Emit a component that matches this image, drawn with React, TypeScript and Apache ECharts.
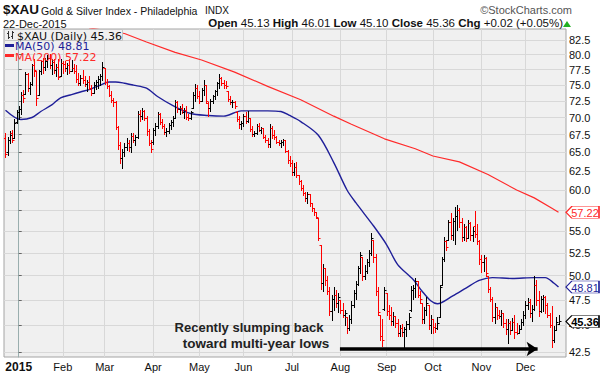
import React, { useEffect, useRef } from 'react';
import * as echarts from 'echarts';

const FONT = '"Liberation Sans", Arial, Helvetica, sans-serif';
const LEG_FONT = '"DejaVu Sans", Verdana, sans-serif';

const RED = '#ff0000';
const NAVY = '#1f1f99';
const MA_RED = '#ff2a2a';

// x axis: trading-day index (0 = 2 Jan 2015)
const firstIndex = -6;
const monthStarts = [0, 20, 39, 61, 82, 102, 124, 146, 167, 188, 210, 230];
const monthLabels = ['2015', 'Feb', 'Mar', 'Apr', 'May', 'Jun', 'Jul', 'Aug', 'Sep', 'Oct', 'Nov', 'Dec'];
const yTicks = [42.5, 45, 47.5, 50, 52.5, 55, 57.5, 60, 62.5, 65, 67.5, 70, 72.5, 75, 77.5, 80, 82.5];
// 57.5 sits fully behind the MA(200) price tag, so its label is not drawn
const yLabelTicks = [42.5, 45, 47.5, 50, 52.5, 55, 60, 62.5, 65, 67.5, 70, 72.5, 75, 77.5, 80, 82.5];

// daily bars [open, high, low, close]
const dec2014 = [
  [67.0, 67.7, 64.3, 64.8], [65.0, 67.2, 64.6, 66.8], [66.8, 68.0, 66.3, 67.5], [67.8, 68.1, 66.4, 66.8],
  [67.0, 69.8, 67.0, 69.2], [69.3, 71.2, 69.2, 70.9],
];
const jan2015 = [
  [70.9, 71.8, 69.8, 71.3], [71.3, 73.9, 70.5, 73.5], [73.5, 74.2, 72.3, 73.0], [73.6, 77.1, 73.6, 76.8],
  [76.8, 77.0, 74.0, 74.5], [74.5, 75.5, 73.6, 75.2], [75.2, 78.5, 75.0, 78.2], [78.2, 79.3, 76.5, 77.5],
  [77.3, 77.3, 71.9, 73.0], [73.5, 77.5, 73.5, 77.2], [77.2, 79.1, 76.8, 78.9], [78.9, 79.5, 77.0, 78.0],
  [78.0, 79.5, 77.5, 79.0], [79.0, 80.0, 78.0, 79.5], [79.5, 80.2, 77.8, 78.2], [78.2, 79.3, 76.8, 78.8],
  [78.8, 79.2, 77.0, 77.5], [77.5, 78.5, 76.5, 78.0], [78.0, 79.2, 75.9, 76.3], [76.5, 79.2, 76.5, 78.6],
];
const feb2015 = [
  [78.6, 79.0, 77.0, 78.5], [78.5, 79.0, 77.2, 77.8], [77.8, 78.6, 76.8, 78.2], [78.2, 79.2, 77.0, 77.3],
  [77.3, 79.1, 77.3, 77.8], [77.8, 78.5, 77.0, 77.2], [77.2, 78.2, 75.5, 76.0], [76.0, 77.0, 75.0, 75.4],
  [75.4, 76.6, 75.0, 76.2], [76.2, 77.5, 75.3, 75.8], [75.8, 76.5, 74.8, 75.2], [75.2, 75.8, 74.0, 75.5],
  [75.5, 76.4, 74.3, 74.6], [74.6, 75.0, 73.5, 73.8], [73.8, 75.5, 73.8, 75.0], [75.0, 75.8, 74.3, 75.5],
  [75.5, 76.4, 74.5, 76.0], [76.0, 76.8, 75.0, 76.5], [76.5, 78.7, 75.8, 78.0],
];
const mar2015 = [
  [77.8, 77.8, 75.2, 75.5], [75.5, 76.0, 74.5, 74.8], [74.8, 75.0, 73.2, 73.5], [73.5, 74.0, 72.3, 72.6],
  [72.6, 73.0, 71.8, 72.3], [72.3, 72.5, 68.3, 68.6], [68.6, 68.8, 65.5, 66.0], [66.0, 66.5, 63.5, 64.2],
  [64.2, 65.5, 62.9, 65.0], [65.0, 66.3, 64.5, 65.8], [65.8, 67.0, 65.3, 66.3], [66.3, 66.8, 65.2, 65.7],
  [65.7, 67.7, 65.0, 67.3], [67.3, 67.8, 66.5, 66.8], [66.8, 67.5, 66.0, 67.2], [67.2, 71.0, 67.0, 70.5],
  [70.5, 71.2, 69.5, 70.2], [70.2, 71.4, 69.8, 71.0], [71.0, 71.2, 69.7, 70.0], [70.0, 70.2, 67.5, 68.0],
  [68.0, 68.3, 66.0, 66.3], [66.3, 66.8, 65.0, 65.5],
];
const apr2015 = [
  [66.4, 68.5, 66.2, 68.2], [68.2, 69.2, 67.5, 68.8], [68.8, 70.8, 68.5, 70.5], [70.5, 70.6, 69.0, 69.3],
  [69.3, 69.8, 68.5, 68.8], [68.8, 69.0, 67.6, 67.9], [67.9, 68.4, 67.3, 68.0], [68.0, 69.2, 67.8, 68.9],
  [68.9, 69.7, 68.3, 69.4], [69.4, 70.2, 68.8, 70.0], [70.0, 72.7, 70.0, 72.3], [72.3, 72.5, 70.8, 71.3],
  [71.3, 71.8, 70.5, 71.5], [71.5, 72.0, 70.6, 70.8], [70.8, 71.5, 70.0, 71.2], [71.2, 71.8, 69.8, 70.1],
  [70.1, 70.5, 69.6, 69.9], [69.9, 71.0, 69.8, 70.8], [71.5, 73.9, 71.5, 73.5], [73.5, 75.2, 72.5, 74.5],
  [74.5, 75.0, 73.0, 73.3],
];
const may2015 = [
  [73.3, 74.0, 72.2, 72.5], [72.5, 74.5, 72.5, 74.2], [74.2, 75.8, 73.5, 75.0], [75.0, 75.0, 72.2, 72.5],
  [72.2, 72.4, 70.2, 71.5], [71.5, 72.8, 71.0, 72.5], [72.5, 73.5, 72.2, 73.2], [73.2, 74.2, 72.8, 74.0],
  [74.0, 75.5, 73.5, 75.3], [75.3, 76.8, 74.5, 76.2], [76.2, 76.3, 75.0, 75.4], [75.4, 75.8, 74.6, 75.0],
  [75.0, 75.6, 74.6, 74.8], [74.0, 74.0, 72.5, 72.8], [72.8, 73.2, 72.0, 72.3], [72.3, 72.6, 71.6, 72.4],
  [72.4, 72.5, 71.5, 71.8], [70.8, 71.0, 69.5, 69.8], [69.8, 70.2, 68.5, 69.0], [69.0, 69.5, 68.3, 69.2],
];
const jun2015 = [
  [69.2, 70.5, 68.8, 70.2], [70.2, 70.9, 69.2, 69.5], [69.5, 71.0, 69.3, 69.9], [69.9, 69.9, 68.0, 68.3],
  [68.3, 68.8, 67.3, 67.6], [67.6, 68.0, 67.3, 67.8], [67.8, 69.0, 67.6, 68.7], [68.7, 69.2, 68.0, 68.2],
  [68.2, 68.6, 67.8, 68.4], [68.4, 68.4, 67.0, 67.2], [67.2, 67.5, 66.5, 66.8], [66.8, 67.0, 65.8, 66.2],
  [66.2, 69.0, 65.8, 68.5], [68.5, 68.8, 67.0, 67.5], [67.5, 68.2, 66.9, 67.1], [67.1, 67.3, 66.3, 66.5],
  [66.5, 66.8, 66.0, 66.3], [66.3, 66.8, 65.8, 66.5], [66.5, 66.9, 66.0, 66.7], [66.7, 66.7, 65.0, 65.2],
  [65.2, 65.3, 63.6, 64.0], [64.0, 64.5, 63.2, 63.5],
];
const jul2015 = [
  [63.5, 64.0, 62.0, 62.4], [62.4, 63.5, 62.0, 63.0], [63.0, 63.7, 61.7, 62.0], [62.0, 62.0, 60.8, 61.1],
  [61.1, 61.3, 60.0, 60.3], [60.3, 60.6, 59.3, 59.6], [59.6, 59.8, 58.6, 59.0], [59.0, 59.8, 58.4, 59.5],
  [59.5, 59.5, 58.0, 58.3], [58.3, 58.4, 57.4, 57.7], [57.7, 57.8, 56.9, 57.2], [57.2, 57.2, 56.5, 56.7],
  [56.5, 56.5, 53.9, 54.2], [53.4, 53.4, 48.6, 49.2], [49.2, 51.3, 48.4, 50.8], [50.8, 50.8, 49.0, 49.5],
  [49.5, 50.0, 48.1, 48.4], [48.4, 48.8, 46.0, 46.4], [46.4, 48.0, 45.5, 47.6], [47.6, 48.8, 46.5, 48.0],
  [48.0, 48.5, 46.8, 47.2], [47.2, 48.2, 46.3, 47.8],
];
const aug2015 = [
  [47.5, 47.5, 46.2, 46.5], [46.5, 47.2, 45.8, 46.0], [46.0, 46.5, 45.0, 46.2], [45.8, 45.8, 44.3, 44.7],
  [44.7, 46.0, 44.5, 45.6], [45.6, 47.4, 45.2, 47.0], [47.0, 48.5, 46.8, 48.2], [48.2, 49.4, 47.6, 49.1],
  [49.1, 51.0, 49.0, 50.8], [50.8, 52.6, 50.3, 52.3], [52.0, 52.0, 49.5, 50.0], [50.0, 51.2, 49.6, 50.5],
  [50.5, 51.8, 50.3, 51.5], [51.5, 52.8, 51.0, 52.5], [52.5, 54.8, 52.3, 54.2], [54.0, 54.0, 51.5, 52.0],
  [52.0, 52.4, 48.0, 48.4], [48.4, 48.8, 46.0, 46.3], [46.0, 46.0, 43.6, 44.0], [44.0, 45.6, 43.1, 43.6],
  [46.6, 48.8, 46.5, 48.5],
];
const sep2015 = [
  [48.2, 48.2, 46.0, 46.4], [46.4, 47.0, 45.6, 46.0], [46.0, 46.8, 45.0, 45.4], [45.4, 46.3, 45.0, 45.9],
  [45.9, 45.9, 44.8, 45.2], [45.2, 45.6, 44.0, 44.3], [44.3, 45.0, 44.0, 44.7], [44.7, 45.1, 44.0, 44.4],
  [44.4, 44.8, 42.9, 44.6], [44.6, 45.4, 44.0, 45.1], [45.1, 46.2, 44.6, 45.8], [46.5, 48.9, 46.4, 48.5],
  [48.5, 49.0, 47.6, 48.7], [48.7, 49.8, 47.8, 49.4], [49.4, 49.4, 47.8, 48.0], [48.0, 48.4, 47.2, 47.6],
  [47.2, 47.2, 45.2, 45.6], [45.6, 46.8, 45.2, 46.5], [46.5, 47.8, 46.0, 47.2], [47.0, 47.0, 44.6, 45.0],
  [45.0, 46.0, 44.3, 45.6],
];
const oct2015 = [
  [45.6, 45.6, 44.3, 44.8], [44.8, 45.2, 44.4, 44.7], [44.7, 45.8, 44.6, 45.2], [45.8, 49.0, 45.8, 48.8],
  [49.0, 52.0, 49.0, 51.8], [51.8, 54.3, 51.6, 53.8], [53.8, 53.9, 52.8, 53.2], [53.9, 56.3, 53.9, 56.0],
  [56.0, 57.1, 54.1, 54.5], [54.5, 56.5, 54.0, 56.2], [56.2, 57.9, 53.5, 56.8], [56.8, 58.1, 55.1, 57.5],
  [57.5, 57.8, 55.5, 56.0], [56.0, 56.5, 53.8, 54.3], [54.3, 55.8, 54.0, 55.5], [55.5, 55.6, 53.8, 54.2],
  [54.2, 56.3, 54.2, 55.9], [55.9, 56.0, 54.0, 54.5], [54.5, 55.5, 53.8, 55.0], [55.6, 57.4, 54.3, 54.6],
  [54.6, 55.8, 53.5, 53.8], [53.8, 54.0, 51.3, 51.8],
];
const nov2015 = [
  [51.8, 52.2, 50.4, 51.5], [51.5, 52.3, 50.5, 51.9], [51.9, 52.0, 50.0, 50.3], [50.0, 50.0, 48.3, 48.6],
  [48.6, 48.8, 47.4, 47.6], [47.6, 47.8, 45.4, 45.8], [45.8, 47.2, 45.2, 46.8], [46.8, 46.8, 45.6, 46.0],
  [46.0, 46.5, 45.7, 45.9], [45.9, 46.5, 45.0, 46.2], [46.2, 46.2, 44.8, 45.2], [45.2, 45.6, 44.2, 44.6],
  [44.6, 45.6, 43.3, 45.2], [45.2, 45.4, 44.2, 44.5], [44.5, 45.7, 44.5, 45.3], [45.3, 46.0, 43.8, 44.4],
  [44.4, 45.2, 44.2, 44.3], [44.3, 45.0, 44.3, 44.6], [44.6, 45.6, 44.6, 45.3], [45.3, 46.4, 45.0, 46.0],
];
const dec2015 = [
  [46.0, 47.4, 45.7, 47.0], [47.0, 47.7, 46.6, 47.3], [47.3, 47.6, 45.8, 46.2], [46.2, 47.0, 45.4, 46.6],
  [46.6, 50.0, 46.5, 49.0], [49.0, 49.5, 47.0, 47.5], [47.5, 48.4, 45.9, 46.4], [46.4, 47.9, 46.3, 47.6],
  [47.6, 48.0, 46.4, 47.8], [47.8, 47.9, 46.2, 47.0], [47.0, 47.2, 45.8, 46.0], [46.0, 46.2, 44.8, 45.0],
  [45.0, 46.9, 43.0, 43.6], [43.6, 44.9, 43.4, 44.5], [44.5, 45.8, 44.5, 45.34], [45.13, 46.01, 45.10, 45.36],
];

// moving averages [dayIndex, value]
const ma50 = [
  [-6, 71.1], [1, 69.7], [6, 70.0], [10, 70.9], [15, 71.9], [19, 73.0], [24, 73.5], [28, 73.9], [33, 74.4],
  [37, 75.0], [41, 75.5], [44, 75.5], [48, 75.3], [52, 75.0], [58, 74.5], [63, 73.2], [70, 71.8], [78, 70.6],
  [86, 70.3], [93, 70.2], [101, 71.0], [105, 71.0], [113, 71.0], [119, 70.9], [123, 70.3], [128, 69.4],
  [136, 67.4], [143, 63.6], [149, 60.0], [153, 58.4], [161, 55.6], [167, 53.4], [172, 51.2], [179, 49.6],
  [183, 48.4], [187, 47.4], [190, 47.1], [197, 47.9], [203, 48.7], [209, 49.5], [215, 49.8], [224, 49.7],
  [234, 49.8], [239, 49.8], [243, 49.2], [245, 48.81],
];
const ma200 = [
  [32, 84.7], [48, 83.7], [58, 82.2], [71, 80.4], [83, 79.1], [98, 77.1], [113, 74.8], [128, 72.7],
  [143, 70.2], [151, 69.0], [166, 66.9], [180, 65.5], [188, 64.5], [200, 63.7], [213, 62.0], [226, 60.0],
  [234, 59.0], [242, 57.7], [245, 57.22],
];

const lastClose = 45.36;
const lastMa50 = 48.81;
const lastMa200 = 57.22;

const XMIN = -6.68;
const XMAX = 248.4;
const YMIN = 42.06;
const YMAX = 84.5;

const ln = (v: number) => Math.log(v);

function buildOption() {
  const bars = [
    ...dec2014, ...jan2015, ...feb2015, ...mar2015, ...apr2015, ...may2015,
    ...jun2015, ...jul2015, ...aug2015, ...sep2015, ...oct2015, ...nov2015, ...dec2015,
  ];
  const ohlc = bars.map((b, k) => {
    const up = k > 0 && b[3] >= bars[k - 1][3] ? 1 : 0;
    return [firstIndex + k, ln(b[0]), ln(b[1]), ln(b[2]), ln(b[3]), up];
  });
  const lastIdx = firstIndex + bars.length - 1;

  const tag = (v: number, color: string, bold: boolean) => ({
    silent: true,
    symbol: 'path://M0,6L6,0L34,0L34,12L6,12Z',
    symbolSize: [33, 12],
    symbolOffset: [16.5, 0],
    itemStyle: { color: '#ffffff', borderColor: color, borderWidth: 1 },
    label: {
      show: true, position: 'inside', offset: [2.5, 0.5], formatter: v.toFixed(2), color: bold ? '#000' : color,
      fontFamily: FONT, fontSize: 11, fontWeight: bold ? 'bold' : 'normal',
    },
    data: [{ coord: [XMAX, ln(v)] }],
  });

  const legendText = (text: string, left: number, top: number, fill: string) => ({
    type: 'text', left, top, z: 11,
    style: { text, font: '11px ' + LEG_FONT, fill, lineHeight: 9 },
  });

  return {
    animation: false,
    backgroundColor: '#ffffff',
    grid: {
      left: 4, right: 38, top: 29, bottom: 17, show: true,
      backgroundColor: '#f0f0f0', borderColor: '#a4a4a4', borderWidth: 1,
      containLabel: false, outerBoundsMode: 'none',
    },
    xAxis: {
      type: 'value', min: XMIN, max: XMAX,
      axisLine: { show: false },
      axisTick: { show: false, customValues: monthStarts },
      axisLabel: {
        customValues: monthStarts, margin: 4, fontFamily: FONT, fontSize: 11, color: '#111',
        formatter: (v: number) => {
          const k = monthStarts.indexOf(Math.round(v));
          if (k < 0) return '';
          return k === 0 ? '{b|' + monthLabels[k] + '}' : monthLabels[k];
        },
        rich: { b: { fontFamily: FONT, fontSize: 12, fontWeight: 'bold', color: '#111' } },
      },
      splitLine: { show: true, lineStyle: { color: '#d8d8d8', width: 1 } },
    },
    yAxis: {
      type: 'value', position: 'right', min: ln(YMIN), max: ln(YMAX),
      axisLine: { show: true, lineStyle: { color: '#9aaeae', width: 1 } },
      axisTick: { show: true, length: 3, customValues: yTicks.map(ln), lineStyle: { color: '#666' } },
      axisLabel: {
        customValues: yLabelTicks.map(ln), margin: 3, fontFamily: FONT, fontSize: 11, color: '#111',
        formatter: (v: number) => Math.exp(v).toFixed(1),
      },
      splitLine: { show: true, lineStyle: { color: '#d8d8d8', width: 1 } },
    },
    series: [
      {
        type: 'line', name: 'MA200', data: ma200.map(p => [p[0], ln(p[1])]), showSymbol: false,
        lineStyle: { color: MA_RED, width: 1.2 }, z: 2, markPoint: tag(lastMa200, MA_RED, false),
      },
      {
        type: 'line', name: 'MA50', data: ma50.map(p => [p[0], ln(p[1])]), showSymbol: false, smooth: 0.3,
        lineStyle: { color: NAVY, width: 1.4 }, z: 2, markPoint: tag(lastMa50, NAVY, false),
      },
      {
        type: 'custom', name: 'XAU', data: ohlc, z: 3, clip: true,
        dimensions: ['i', 'o', 'h', 'l', 'c', 'up'],
        encode: { x: 0, y: [1, 2, 3, 4] },
        renderItem: (params: any, api: any) => {
          const i = api.value(0);
          const pO = api.coord([i, api.value(1)]);
          const pH = api.coord([i, api.value(2)]);
          const pL = api.coord([i, api.value(3)]);
          const pC = api.coord([i, api.value(4)]);
          const color = api.value(5) ? '#000000' : RED;
          const x = Math.round(pH[0]) + 0.5;
          const yo = Math.round(pO[1]) + 0.5;
          const yc = Math.round(pC[1]) + 0.5;
          const style = { stroke: color, lineWidth: 1 };
          return {
            type: 'group',
            children: [
              { type: 'line', shape: { x1: x, y1: Math.round(pH[1]), x2: x, y2: Math.round(pL[1]) + 1 }, style },
              { type: 'line', shape: { x1: x - 2, y1: yo, x2: x, y2: yo }, style },
              { type: 'line', shape: { x1: x, y1: yc, x2: x + 2, y2: yc }, style },
            ],
          };
        },
      },
      {
        type: 'line', name: 'price', data: [[lastIdx, ln(lastClose)]], showSymbol: false,
        lineStyle: { opacity: 0 }, z: 4,
        markPoint: tag(lastClose, '#000000', true),
        markLine: {
          silent: true, symbol: ['none', 'arrow'], symbolSize: [11, 11],
          lineStyle: { color: '#000', width: 3.5, type: 'solid' },
          label: { show: false },
          data: [[{ coord: [145.8, ln(42.78)] }, { coord: [235.5, ln(42.78)] }]],
        },
      },
    ],
    graphic: [
      { type: 'text', left: 3, top: 2, style: { text: '$XAU', font: 'bold 13.5px ' + FONT, fill: '#111' } },
      { type: 'text', left: 41, top: 5, style: { text: 'Gold & Silver Index - Philadelphia', font: '10.5px ' + FONT, fill: '#111' } },
      { type: 'text', left: 205, top: 5, style: { text: 'INDX', font: '10px ' + FONT, fill: '#111' } },
      { type: 'text', right: 32, top: 4, style: { text: '\u00a9StockCharts.com', font: '11px ' + FONT, fill: '#555' } },
      { type: 'text', left: 3, top: 18, style: { text: '22-Dec-2015', font: '11px ' + FONT, fill: '#111' } },
      {
        type: 'text', right: 41, top: 17,
        style: {
          text: '{b|Open} 45.13 {b|High} 46.01 {b|Low} 45.10 {b|Close} 45.36 {b|Chg} +0.02 (+0.05%)',
          font: '11.5px ' + FONT, fill: '#111',
          rich: { b: { font: 'bold 11.5px ' + FONT, fill: '#111' } },
        },
      },
      { type: 'polygon', shape: { points: [[563, 27], [567, 21], [571, 27]] }, style: { fill: '#22b022' } },
      // legend
      { type: 'rect', shape: { x: 4.5, y: 29.5, width: 118, height: 11 }, style: { fill: '#f0f0f0', stroke: '#c4c4c4', lineWidth: 1 }, z: 10 },
      { type: 'line', shape: { x1: 8.5, y1: 31, x2: 8.5, y2: 39 }, style: { stroke: '#333', lineWidth: 1 }, z: 11 },
      { type: 'line', shape: { x1: 7, y1: 33.5, x2: 8.5, y2: 33.5 }, style: { stroke: '#333', lineWidth: 1 }, z: 11 },
      { type: 'line', shape: { x1: 8.5, y1: 37.5, x2: 10, y2: 37.5 }, style: { stroke: '#333', lineWidth: 1 }, z: 11 },
      { type: 'line', shape: { x1: 12.5, y1: 31, x2: 12.5, y2: 39 }, style: { stroke: '#333', lineWidth: 1 }, z: 11 },
      { type: 'line', shape: { x1: 11, y1: 36.5, x2: 12.5, y2: 36.5 }, style: { stroke: '#333', lineWidth: 1 }, z: 11 },
      { type: 'line', shape: { x1: 12.5, y1: 32.5, x2: 14, y2: 32.5 }, style: { stroke: '#333', lineWidth: 1 }, z: 11 },
      legendText('$XAU (Daily) 45.36', 17, 30.5, '#111'),
      { type: 'line', shape: { x1: 5, y1: 45.5, x2: 14, y2: 45.5 }, style: { stroke: NAVY, lineWidth: 3 }, z: 11 },
      legendText('MA(50) 48.81', 15, 41, NAVY),
      { type: 'line', shape: { x1: 5, y1: 55.5, x2: 14, y2: 55.5 }, style: { stroke: MA_RED, lineWidth: 3 }, z: 11 },
      legendText('MA(200) 57.22', 15, 51.5, MA_RED),
      // annotation
      {
        type: 'text', x: 249, y: 327, z: 11,
        style: { text: 'Recently slumping back', font: 'bold 13px ' + FONT, fill: '#222', align: 'center', verticalAlign: 'middle' },
      },
      {
        type: 'text', x: 256, y: 343, z: 11,
        style: { text: 'toward multi-year lows', font: 'bold 13.5px ' + FONT, fill: '#222', align: 'center', verticalAlign: 'middle' },
      },
    ],
  };
}

export default function App() {
  const ref = useRef<HTMLDivElement>(null);
  useEffect(() => {
    if (!ref.current) return;
    const chart = echarts.init(ref.current, undefined, { renderer: 'svg' });
    chart.setOption(buildOption() as any);
    return () => chart.dispose();
  }, []);
  return (
    <div
      ref={ref}
      style={{ position: 'fixed', left: 0, top: 0, width: 604, height: 374, background: '#fff' }}
    />
  );
}
